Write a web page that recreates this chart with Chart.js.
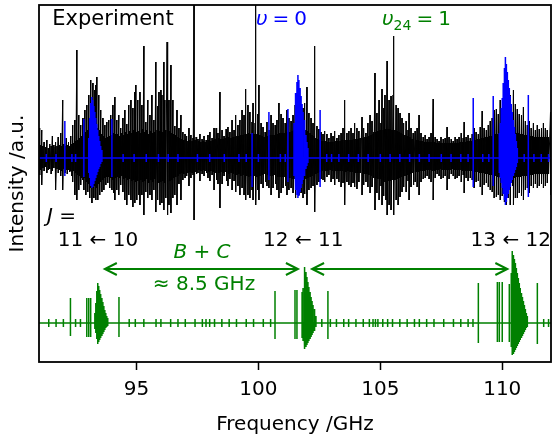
<!DOCTYPE html>
<html>
<head>
<meta charset="utf-8">
<script src="https://cdn.jsdelivr.net/npm/chart.js@4.4.1/dist/chart.umd.min.js"></script>
<style>
  html, body { margin: 0; padding: 0; background: #fff; }
  canvas { display: block; }
</style>
</head>
<body>
<canvas id="spec" width="552" height="439"></canvas>
<script>
/* ============ Data ============ */
// x range and ticks, GHz
const X_MIN = 91, X_MAX = 112;
const X_TICKS = [95, 100, 105, 110];

// vertical offsets of the traces (a.u.)
const EXP_BASE = 0;
const V24_BASE = -16.5;

// experiment: [freq GHz, height above baseline, depth below baseline]
const expLines = [
  [91.03,3.0,1.7],[91.07,1.3,1.2],[91.11,2.8,2.7],[91.16,1.2,1.0],[91.21,1.6,1.3],[91.27,1.1,0.9],
  [91.32,1.8,1.5],[91.38,1.0,1.2],[91.44,1.4,1.1],[91.50,1.2,1.6],[91.55,2.2,1.3],[91.61,1.3,1.0],
  [91.66,1.1,1.4],[91.69,1.6,3.2],[91.74,1.2,1.1],[91.79,2.1,1.5],[91.85,1.3,1.2],[91.89,2.5,1.8],
  [91.93,1.2,1.3],[91.97,5.8,3.2],[92.02,1.4,1.1],[92.07,1.2,1.5],[92.12,2.0,1.2],[92.16,1.3,1.6],
  [92.21,1.6,1.2],[92.26,1.2,1.4],[92.30,2.2,1.3],[92.35,1.4,1.8],[92.38,3.3,2.4],[92.42,1.5,1.3],
  [92.47,3.8,3.7],[92.51,1.7,1.5],[92.55,10.8,4.2],[92.59,1.8,1.7],
  [92.63,4.3,3.2],[92.67,2.0,1.8],[92.71,3.3,2.7],[92.75,2.2,2.0],[92.80,4.0,2.2],[92.84,2.4,3.2],
  [92.88,4.8,2.0],[92.92,2.6,3.7],[92.96,5.3,2.4],[93.00,2.8,3.4],[93.04,6.3,2.6],[93.08,3.0,4.0],
  [93.12,7.8,3.0],[93.17,3.2,4.5],[93.21,7.5,3.0],[93.25,3.4,4.0],[93.29,6.8,2.8],[93.33,7.3,4.2],
  [93.37,8.1,3.0],[93.41,3.0,4.2],[93.45,6.3,2.6],[93.49,2.8,3.7],[93.53,4.8,2.4],[93.58,2.4,3.4],
  [93.62,4.0,2.2],[93.66,2.2,3.2],[93.70,3.3,2.0],[93.74,2.0,2.7],[93.78,3.6,1.9],[93.82,2.1,2.5],
  [93.86,3.8,1.9],[93.90,2.2,3.0],[93.94,4.3,2.0],[93.99,2.3,3.2],[94.03,5.3,2.2],[94.07,2.5,3.5],
  [94.11,6.1,4.2],[94.15,2.4,2.0],[94.19,3.8,3.2],
  [94.23,2.4,1.9],[94.27,4.3,3.7],[94.31,2.2,2.0],[94.35,3.0,2.7],[94.40,2.5,1.8],[94.44,4.0,3.4],
  [94.48,2.3,2.1],[94.52,4.8,4.2],[94.56,2.6,2.0],[94.60,3.4,4.7],[94.64,2.4,2.2],[94.68,5.3,3.7],
  [94.72,2.7,2.1],[94.77,5.8,4.2],[94.81,2.5,2.3],[94.85,5.0,4.9],[94.89,2.8,2.2],[94.93,6.6,4.5],
  [94.97,7.3,2.4],[95.01,2.6,4.2],[95.05,5.8,2.3],[95.10,2.7,3.7],[95.14,6.6,4.7],[95.18,2.5,2.2],
  [95.22,5.3,3.7],[95.26,2.9,2.4],[95.30,11.2,5.7],[95.34,2.6,2.3],[95.38,3.6,3.4],[95.42,2.8,2.1],
  [95.46,5.8,4.0],[95.50,2.4,2.5],[95.55,4.3,3.7],[95.59,2.7,2.2],[95.63,6.3,4.2],[95.67,2.5,2.4],
  [95.71,3.8,3.2],[95.75,2.6,2.1],[95.79,9.6,5.4],[95.84,2.8,2.3],[95.88,5.2,4.2],[95.92,6.6,2.5],
  [95.96,2.7,4.7],[96.00,6.8,2.4],[96.04,6.3,4.5],[96.08,2.6,2.3],[96.12,9.6,5.2],[96.16,5.8,2.5],
  [96.20,2.8,4.0],[96.25,11.6,5.7],[96.29,2.6,2.4],[96.33,5.8,4.7],[96.37,2.7,2.3],[96.41,9.3,5.5],
  [96.45,2.5,2.2],[96.49,5.8,4.0],[96.53,2.4,2.0],[96.57,3.2,3.7],[96.61,2.3,1.9],[96.66,4.8,4.7],
  [96.70,2.1,1.8],[96.74,3.0,2.6],
  [96.78,2.0,1.6],[96.82,4.3,4.2],[96.86,1.9,1.5],[96.90,2.6,2.2],[96.94,1.8,1.6],[96.99,2.4,2.0],
  [97.03,1.9,1.4],[97.07,2.2,1.8],[97.11,1.7,1.5],[97.15,3.0,2.8],[97.19,1.8,1.4],[97.23,2.3,2.0],
  [97.28,1.7,1.5],[97.32,2.0,1.7],[97.36,16,6.2],[97.40,1.8,1.4],
  [97.44,2.1,1.6],[97.48,1.6,1.3],[97.52,1.9,1.5],[97.56,1.7,1.2],[97.60,2.4,2.3],[97.64,1.6,1.3],
  [97.69,1.9,1.6],[97.73,1.7,1.2],[97.77,2.2,1.8],[97.81,1.6,1.3],[97.85,1.8,1.5],[97.89,1.7,1.3],
  [97.93,2.3,2.0],[97.97,1.8,1.4],[98.01,2.6,2.3],[98.05,1.7,1.3],[98.10,2.0,1.7],[98.14,1.8,1.4],
  [98.18,3.0,3.2],[98.22,1.9,1.5],[98.26,3.0,2.2],[98.30,1.8,1.4],[98.34,2.5,2.6],[98.38,2.0,1.5],
  [98.42,6.6,5.0],[98.46,1.9,1.4],[98.51,2.8,2.6],[98.55,1.9,1.5],[98.59,2.2,1.8],[98.63,2.0,1.4],
  [98.67,2.9,2.3],[98.71,2.0,1.5],[98.75,3.1,2.8],[98.79,2.1,1.6],[98.83,2.6,2.1],[98.88,2.0,1.5],
  [98.92,3.8,3.2],[98.96,2.1,1.6],
  [99.00,2.8,2.3],[99.04,2.1,1.6],[99.08,4.3,3.4],[99.12,2.2,1.7],[99.16,3.3,2.8],[99.20,2.2,1.6],
  [99.24,3.8,3.7],[99.28,2.3,1.8],[99.33,4.8,3.0],[99.37,2.3,1.7],[99.41,4.3,3.7],[99.45,2.4,1.9],
  [99.49,6.9,4.2],[99.53,2.4,1.8],[99.57,5.3,3.7],[99.61,2.5,1.9],[99.65,4.6,4.0],[99.69,2.4,1.8],
  [99.74,3.6,3.2],[99.78,5.5,4.2],[99.82,2.4,1.8],[99.86,3.5,3.7],[99.90,16,4.7],[99.94,2.4,1.9],
  [99.98,4.4,3.2],[100.02,7.3,4.2],[100.06,2.3,1.8],[100.11,3.5,2.6],[100.15,2.2,1.7],[100.19,3.1,3.0],
  [100.23,2.1,1.6],[100.27,2.6,2.4],[100.31,2.2,1.7],[100.35,3.6,2.8],[100.39,2.2,1.7],[100.43,2.8,3.0],
  [100.47,2.3,1.8],[100.52,4.3,3.7],[100.56,2.3,1.8],[100.60,3.5,3.0],[100.64,2.3,1.7],[100.68,3.3,2.6],
  [100.72,2.4,1.8],[100.76,3.8,3.2],[100.80,2.4,1.9],[100.84,5.5,4.0],[100.88,2.5,1.9],[100.93,4.4,3.5],
  [100.97,2.5,1.9],[101.01,4.0,3.0],[101.05,2.5,1.9],[101.09,3.5,2.8],[101.13,2.6,2.0],[101.17,4.8,3.7],
  [101.21,2.6,2.0],[101.25,4.0,3.2],[101.29,2.6,2.0],[101.34,3.7,3.0],[101.38,2.7,2.1],[101.42,4.3,3.5],
  [101.46,2.8,2.1],
  [101.50,5.3,4.0],[101.54,2.9,2.2],[101.58,4.5,3.2],[101.62,3.0,2.2],[101.66,5.8,3.7],[101.71,3.0,2.3],
  [101.75,4.7,3.5],[101.79,3.0,2.2],[101.83,5.0,4.0],[101.87,2.9,2.2],[101.91,5.5,3.6],[101.95,2.8,2.1],
  [101.99,7.1,4.7],[102.03,2.7,2.0],[102.07,4.5,3.2],[102.12,2.5,1.9],[102.16,4.0,3.0],[102.20,2.3,1.8],
  [102.24,3.5,2.8],[102.28,2.2,1.7],[102.32,11.2,5.4],[102.36,2.0,1.6],
  [102.40,3.2,2.7],[102.44,1.9,1.5],[102.48,2.9,2.4],[102.53,1.8,1.4],[102.57,2.6,2.1],[102.61,1.7,1.3],
  [102.65,2.4,2.2],[102.69,1.7,1.3],[102.73,2.7,2.4],[102.77,1.7,1.3],[102.81,2.4,1.9],[102.85,1.6,1.3],
  [102.89,2.0,1.7],[102.94,1.6,1.2],[102.98,2.5,2.4],[103.02,1.6,1.3],[103.06,2.2,2.1],[103.10,1.6,1.2],
  [103.14,2.7,2.7],[103.18,1.7,1.3],[103.22,2.0,2.1],[103.26,1.7,1.3],[103.30,2.3,2.4],[103.35,1.7,1.3],
  [103.39,2.5,2.9],[103.43,1.8,1.3],[103.47,3.0,2.5],[103.51,1.8,1.4],[103.55,5.8,4.7],[103.59,1.8,1.4],
  [103.63,2.5,2.4],[103.67,1.8,1.3],[103.71,2.7,2.7],[103.76,1.8,1.4],[103.80,3.0,2.9],[103.84,1.8,1.4],
  [103.88,2.5,2.5],[103.92,1.9,1.4],[103.96,3.5,2.9],[104.00,1.9,1.5],[104.04,3.0,3.1],[104.08,1.9,1.5],
  [104.12,2.7,2.4],[104.17,2.0,1.5],[104.25,4.1,3.7],[104.29,2.0,1.5],[104.33,3.0,2.7],[104.37,2.1,1.6],
  [104.41,2.5,2.4],[104.45,2.1,1.6],[104.49,3.5,2.9],[104.53,2.2,1.7],[104.58,4.3,3.5],[104.62,2.3,1.8],
  [104.66,3.7,2.9],[104.70,2.4,1.9],
  [104.74,2.6,2.0],[104.78,8.5,5.2],[104.82,2.6,2.0],[104.86,4.5,3.5],[104.90,2.7,2.1],[104.95,5.8,4.2],
  [104.99,2.8,2.1],[105.03,3.5,2.8],[105.07,6.9,4.7],[105.11,2.8,2.2],[105.15,5.0,3.8],[105.19,6.3,2.4],
  [105.23,2.9,4.2],[105.28,9.7,5.7],[105.32,2.9,2.3],[105.36,5.8,4.7],[105.40,2.9,2.3],[105.44,6.2,5.2],
  [105.48,2.8,2.2],[105.52,6.3,4.7],[105.56,12.2,5.7],[105.60,2.8,2.2],[105.65,5.3,4.2],[105.69,2.7,2.1],
  [105.73,5.0,4.7],[105.77,2.6,2.0],[105.81,4.5,3.9],[105.85,2.5,1.9],[105.89,4.0,3.4],[105.93,2.4,1.9],
  [105.97,3.5,2.9],[106.01,2.3,1.8],[106.06,3.7,3.4],[106.10,2.2,1.7],[106.14,2.8,2.3],[106.18,4.5,4.2],
  [106.22,2.1,1.6],
  [106.26,3.0,2.9],[106.30,1.9,1.5],[106.34,2.5,2.7],[106.38,1.8,1.4],[106.43,2.7,2.4],[106.47,1.8,1.4],
  [106.51,3.0,2.9],[106.55,1.8,1.4],[106.59,4.3,3.7],[106.63,1.7,1.3],[106.67,2.5,2.4],[106.71,1.7,1.3],
  [106.76,2.1,2.1],[106.80,1.6,1.3],[106.84,2.3,2.0],[106.88,1.6,1.2],[106.92,1.9,1.8],[106.96,1.6,1.2],
  [107.00,2.1,2.1],[107.04,1.6,1.2],[107.08,2.5,2.4],[107.12,1.6,1.3],[107.17,5.9,4.2],[107.21,1.6,1.3],
  [107.25,2.1,2.0],[107.29,1.5,1.2],[107.33,1.9,1.6],[107.37,1.5,1.2],[107.41,1.7,1.8],[107.45,1.5,1.1],
  [107.49,2.1,2.1],[107.53,1.5,1.2],[107.58,1.9,2.0],[107.62,1.5,1.2],[107.66,2.0,1.8],[107.70,1.5,1.2],
  [107.74,3.1,3.2],[107.78,1.5,1.2],[107.82,2.1,2.1],[107.86,1.5,1.2],[107.91,1.9,1.6],[107.95,1.5,1.1],
  [107.99,1.7,1.8],[108.03,1.5,1.2],[108.07,2.1,2.1],[108.11,1.5,1.2],[108.15,1.9,2.0],[108.19,1.5,1.2],
  [108.23,2.1,1.8],[108.27,1.6,1.2],[108.32,2.5,2.4],[108.36,1.6,1.3],[108.40,2.0,1.7],[108.44,3.6,3.5],
  [108.48,1.6,1.3],[108.52,2.1,2.0],[108.56,1.7,1.3],[108.60,2.3,2.3],[108.64,1.7,1.3],[108.69,2.0,2.0],
  [108.73,1.7,1.3],[108.77,2.4,2.2],[108.81,1.8,1.4],[108.85,3.0,3.0],[108.89,1.8,1.4],[108.93,2.6,2.4],
  [108.97,1.9,1.4],
  [109.02,2.4,2.3],[109.06,1.9,1.5],[109.10,3.1,2.9],[109.14,2.0,1.5],[109.18,4.7,3.7],[109.22,2.0,1.5],
  [109.26,3.0,2.7],[109.30,2.1,1.6],[109.35,2.8,2.5],[109.39,2.1,1.6],[109.43,3.3,2.9],[109.47,2.2,1.7],
  [109.51,3.7,3.2],[109.55,2.2,1.7],[109.59,4.0,3.4],[109.63,2.3,1.8],[109.67,4.8,4.0],[109.71,2.4,1.8],
  [109.76,4.9,3.9],[109.80,2.4,1.9],[109.84,4.4,3.7],[109.88,2.5,1.9],[109.92,5.8,4.2],[109.96,2.5,1.9],
  [110.00,5.0,3.8],[110.04,2.6,2.0],[110.09,5.8,4.4],[110.13,2.6,2.0],[110.17,6.0,4.7],[110.21,2.6,2.0],
  [110.25,5.2,4.0],[110.29,2.6,2.0],[110.33,6.3,4.7],[110.37,2.6,2.0],[110.42,3.5,2.8],[110.46,6.8,4.7],
  [110.50,2.6,2.0],[110.54,5.4,4.0],[110.58,2.5,1.9],[110.62,4.9,4.0],[110.66,2.5,1.9],[110.70,4.4,3.5],
  [110.74,2.4,1.9],[110.79,4.3,3.8],[110.83,2.4,1.8],[110.87,5.1,4.2],[110.91,2.3,1.8],[110.95,3.7,3.2],
  [110.99,2.3,1.8],[111.03,3.3,3.0],[111.07,2.2,1.7],[111.11,3.7,3.5],[111.15,2.2,1.7],[111.19,3.0,2.8],
  [111.24,2.2,1.7],[111.28,3.5,3.0],[111.32,2.1,1.6],[111.36,2.8,2.6],[111.40,2.1,1.6],[111.44,3.3,3.0],
  [111.48,2.1,1.6],[111.52,2.9,2.8],[111.56,2.1,1.6],[111.61,3.0,2.6],[111.65,2.1,1.6],[111.69,3.5,3.0],
  [111.73,2.1,1.6],[111.77,3.0,2.8],[111.81,2.1,1.6],[111.85,2.8,2.5],[111.90,2.1,1.6],[111.98,4.6,3.7]
];

// v = 0 simulation: [freq GHz, height, depth]
const v0Lines = [
  [92.06,3.7,1.8],[92.84,3.9,1.9],
  [93.04,2.0,1.5],[93.08,4.0,2.0],[93.12,5.5,2.8],[93.17,6.1,3.0],[93.21,5.8,2.9],[93.25,5.2,2.6],
  [93.29,4.6,2.3],[93.33,4.0,2.0],[93.37,3.4,1.7],[93.41,2.8,1.4],[93.45,2.2,1.1],[93.49,1.7,0.9],
  [93.53,1.2,0.6],[93.58,0.8,0.4],[93.99,3.9,1.9],
  [99.74,2.5,2.9],[100.43,4.6,2.2],[101.21,4.9,2.4],
  [101.46,3.5,1.8],[101.50,5.0,2.5],[101.54,6.5,3.2],[101.58,7.6,3.7],[101.62,8.3,4.0],[101.66,7.8,3.8],
  [101.71,7.0,3.4],[101.75,6.2,3.0],[101.79,5.4,2.6],[101.83,4.6,2.2],[101.87,3.8,1.8],[101.91,3.0,1.5],
  [101.95,2.3,1.1],[101.99,1.6,0.8],[102.03,1.0,0.5],[102.53,4.8,2.9],
  [108.81,6.0,2.9],[109.63,6.2,2.8],
  [109.88,2.5,1.5],[109.92,3.5,2.0],[109.96,5.0,2.5],[110.00,6.0,3.0],[110.04,7.5,3.6],[110.09,9.0,4.2],
  [110.13,10.1,4.7],[110.17,9.4,4.4],[110.21,8.6,4.0],[110.25,7.8,3.6],[110.29,7.0,3.2],[110.33,6.2,2.9],
  [110.37,5.4,2.5],[110.41,4.6,2.2],[110.46,3.8,1.8],[110.50,3.1,1.5],[110.54,2.4,1.2],[110.58,1.7,0.9],
  [110.62,1.0,0.5],[111.07,6.3,3.9]
];
// weak v = 0 lines along the baseline
const v0Weak = [91.3,91.7,92.35,92.5,94.45,94.9,95.4,95.9,96.3,96.7,97.5,98.0,98.6,99.2,99.5,100.0,
  100.9,101.1,102.8,103.0,103.3,103.7,104.1,104.5,105.0,105.4,105.8,106.2,106.6,107.0,107.5,107.9,
  108.3,108.6,109.2,109.45,110.9,111.3,111.6,111.9];

// v24 = 1 simulation: [freq GHz, height, depth]
const v24Lines = [
  [92.29,2.5,1.3],[92.96,2.5,1.4],[93.04,2.5,1.4],[93.12,2.5,1.4],
  [93.29,1.0,0.6],[93.33,2.0,1.0],[93.37,3.2,1.6],[93.41,4.0,2.1],[93.45,3.7,1.9],[93.49,3.3,1.7],
  [93.53,2.9,1.5],[93.58,2.5,1.3],[93.62,2.1,1.1],[93.66,1.7,0.9],[93.70,1.3,0.7],[93.74,1.0,0.5],
  [93.78,0.7,0.4],[93.82,0.5,0.3],[94.28,2.6,1.4],
  [100.68,3.2,1.6],[101.50,3.3,1.6],[101.58,3.3,1.6],[101.79,3.1,1.5],
  [101.83,3.5,1.8],[101.87,4.6,2.2],[101.91,5.6,2.6],[101.95,5.1,2.4],[101.99,4.6,2.2],[102.03,4.1,2.0],
  [102.07,3.6,1.8],[102.12,3.1,1.6],[102.16,2.6,1.4],[102.20,2.2,1.2],[102.24,1.8,1.0],[102.28,1.4,0.8],
  [102.32,1.0,0.6],[102.36,0.7,0.4],[102.85,3.2,1.6],
  [109.02,4.0,2.0],[109.80,4.1,1.9],[109.88,4.1,1.9],[110.00,4.1,1.9],[110.29,3.9,1.9],
  [110.37,5.0,2.4],[110.41,7.2,3.2],[110.46,6.8,3.1],[110.50,6.4,2.9],[110.54,6.0,2.7],[110.58,5.5,2.5],
  [110.62,5.0,2.3],[110.66,4.5,2.1],[110.70,4.0,1.9],[110.74,3.5,1.7],[110.79,3.0,1.5],[110.83,2.6,1.3],
  [110.87,2.2,1.1],[110.91,1.8,0.9],[110.95,1.4,0.7],[110.99,1.0,0.5],[111.03,0.7,0.4],[111.44,4.0,2.1]
];
const v24Weak = [91.4,91.7,92.0,92.5,92.7,94.7,94.95,95.3,95.8,96.0,96.4,96.7,97.0,97.4,97.7,97.85,
  98.0,98.2,98.5,98.8,99.1,99.5,99.8,100.2,100.5,102.6,102.95,103.2,103.5,103.7,104.0,104.3,104.55,
  104.7,104.8,104.9,105.1,105.3,105.5,105.8,106.1,106.4,106.6,106.9,107.2,107.6,108.0,108.3,108.6,
  108.8,111.7,111.9];

// B + C spacing arrows, GHz
const ARROWS = [[93.70, 101.62], [102.20, 110.21]];
const ARROW_Y = -11.1;

// transition labels: [text, centre freq]
const TRANSITIONS = [["11 \u2190 10", 93.42], ["12 \u2190 11", 101.84], ["13 \u2190 12", 110.35]];

/* ============ Colours / fonts ============ */
const BLUE = "#0000ff", GREEN = "#008000";
const FONT = "DejaVu Sans";
const FS = 20;

/* ============ Build point lists ============ */
function zigzag(rows, base) {
    const pts = [{x: X_MIN, y: base}];
    for (const [f, up, dn] of rows) {
        pts.push({x: f, y: base + up}, {x: f, y: base - dn});
    }
    pts.push({x: X_MAX, y: base});
    return pts;
}

function sticks(rows, weak, base, weakH) {
    const all = rows.concat(weak.map(f => [f, weakH, weakH])).sort((a, b) => a[0] - b[0]);
    const pts = [{x: X_MIN, y: base}];
    for (const [f, up, dn] of all) {
        pts.push({x: f, y: base}, {x: f, y: base + up}, {x: f, y: base - dn}, {x: f, y: base});
    }
    pts.push({x: X_MAX, y: base});
    return pts;
}

/* ============ Plugins ============ */
function runs(ctx, parts, x, y, align) {
    // parts: [text, style, size, dy]
    const w = parts.map(([t, st, sz]) => {
        ctx.font = `${st} ${sz}px "${FONT}"`;
        return ctx.measureText(t).width;
    });
    const total = w.reduce((a, b) => a + b, 0);
    let cx = align === "center" ? x - total / 2 : x;
    parts.forEach(([t, st, sz, dy], i) => {
        ctx.font = `${st} ${sz}px "${FONT}"`;
        ctx.fillText(t, cx, y + (dy || 0));
        cx += w[i];
    });
}

const framePlugin = {
    id: "frame",
    afterDatasetsDraw(chart) {
        const {ctx, chartArea: a} = chart;
        ctx.save();
        ctx.strokeStyle = "#000";
        ctx.lineWidth = 1.8;
        ctx.strokeRect(a.left, a.top, a.right - a.left, a.bottom - a.top);
        ctx.restore();
    }
};

const notePlugin = {
    id: "notes",
    afterDraw(chart) {
        const {ctx} = chart;
        const xs = chart.scales.x, ys = chart.scales.y;
        ctx.save();
        ctx.textBaseline = "alphabetic";
        ctx.textAlign = "left";

        ctx.fillStyle = "#000";
        runs(ctx, [["Experiment", "normal", 21]], 113, 25, "center");
        ctx.fillStyle = BLUE;
        runs(ctx, [["\u03c5", "italic", FS], ["\u2005=\u20050", "normal", FS]], 256, 25);
        ctx.fillStyle = GREEN;
        runs(ctx, [["\u03c5", "italic", FS], ["24", "normal", 14, 5], ["\u2005=\u20051", "normal", FS]], 382, 25);

        ctx.fillStyle = "#000";
        runs(ctx, [["J", "italic", FS], [" =", "normal", FS]], 47, 222);
        for (const [t, f] of TRANSITIONS) {
            runs(ctx, [[t, "normal", FS]], xs.getPixelForValue(f), 246, "center");
        }

        ctx.fillStyle = GREEN;
        runs(ctx, [["B", "italic", FS], [" + ", "normal", FS], ["C", "italic", FS]], 202, 258, "center");
        runs(ctx, [["\u2248 8.5 GHz", "normal", FS]], 204, 290, "center");

        // double-headed arrows
        ctx.strokeStyle = GREEN;
        ctx.lineWidth = 2;
        ctx.lineCap = "butt";
        const ay = ys.getPixelForValue(ARROW_Y);
        for (const [f1, f2] of ARROWS) {
            const x1 = xs.getPixelForValue(f1), x2 = xs.getPixelForValue(f2);
            ctx.beginPath();
            ctx.moveTo(x1, ay); ctx.lineTo(x2, ay);
            ctx.moveTo(x1 + 12, ay - 6); ctx.lineTo(x1, ay); ctx.lineTo(x1 + 12, ay + 6);
            ctx.moveTo(x2 - 12, ay - 6); ctx.lineTo(x2, ay); ctx.lineTo(x2 - 12, ay + 6);
            ctx.stroke();
        }
        ctx.restore();
    }
};

/* ============ Chart ============ */
const line = (pts, color, width, order) => ({
    data: pts, borderColor: color, borderWidth: width, pointRadius: 0,
    fill: false, tension: 0, order
});

new Chart(document.getElementById("spec"), {
    type: "line",
    data: {
        datasets: [
            line(sticks(v24Lines, v24Weak, V24_BASE, 0.4), GREEN, 1.5, 1),
            line(sticks(v0Lines, v0Weak, EXP_BASE, 0.4), BLUE, 1.5, 2),
            line(zigzag(expLines, EXP_BASE), "#000", 1, 3)
        ]
    },
    options: {
        responsive: false,
        animation: false,
        parsing: false,
        layout: {padding: {top: 5, right: 1, left: 0, bottom: 0}},
        plugins: {legend: {display: false}, tooltip: {enabled: false}},
        scales: {
            x: {
                type: "linear", min: X_MIN, max: X_MAX,
                afterBuildTicks: s => { s.ticks = X_TICKS.map(v => ({value: v})); },
                afterFit: s => { s.height = 77; },
                grid: {display: true, drawOnChartArea: false, drawTicks: true, tickLength: 8, tickWidth: 1.5, tickColor: "#000"},
                border: {display: false},
                ticks: {color: "#000", font: {family: FONT, size: FS}, padding: 8, maxRotation: 0},
                title: {display: true, text: "Frequency /GHz", color: "#000", font: {family: FONT, size: FS}, padding: {top: 0, bottom: 2}}
            },
            y: {
                min: -20.4, max: 15.3,
                afterFit: s => { s.width = 39; },
                grid: {display: false},
                border: {display: false},
                ticks: {display: false},
                title: {display: true, text: "Intensity /a.u.", color: "#000", font: {family: FONT, size: FS}, padding: {top: 6, bottom: 0}}
            }
        }
    },
    plugins: [framePlugin, notePlugin]
});
</script>
</body>
</html>
